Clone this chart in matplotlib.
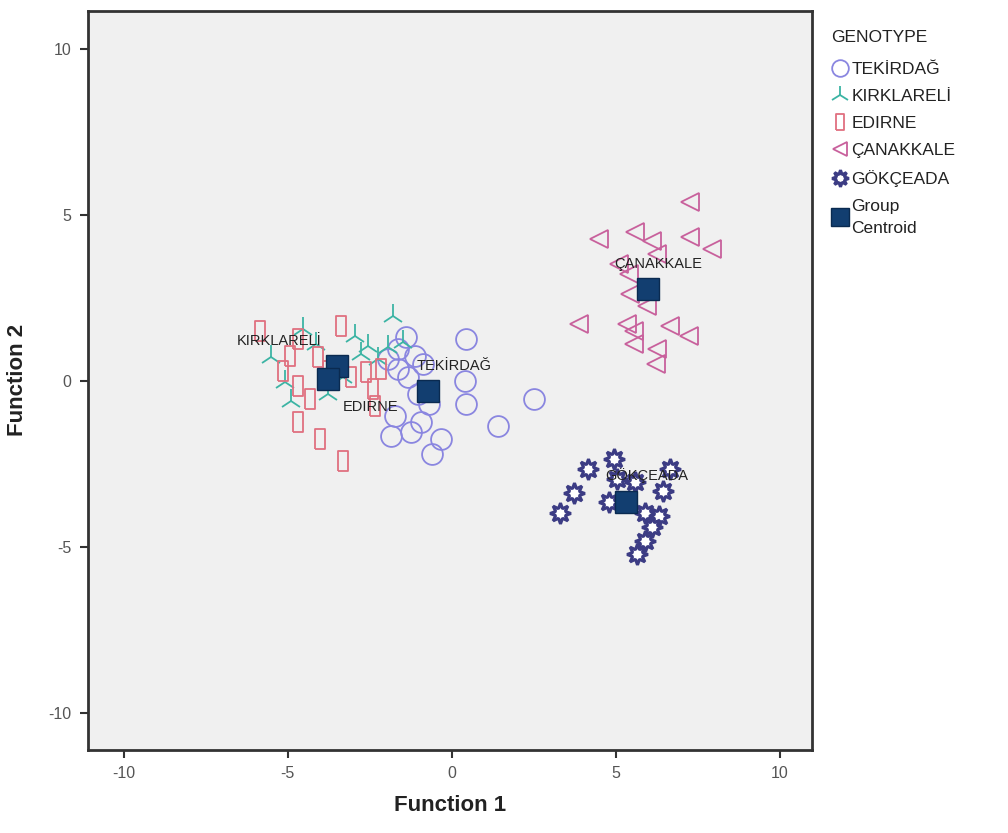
import matplotlib.pyplot as plt
import numpy as np

plt.rcParams["font.family"] = ["Liberation Sans", "DejaVu Sans"]
plt.rcParams["axes.unicode_minus"] = False

# discriminant scores
tekirdag_f1 = [0.43, 0.40, 0.43, 1.40, 2.52, -0.33, -0.61, -1.40, -1.64, -1.12,
               -1.64, -1.34, -0.88, -1.03, -0.70, -1.73, -0.94, -1.85, -1.25, -1.95]
tekirdag_f2 = [1.27, 0.00, -0.69, -1.36, -0.54, -1.75, -2.20, 1.33, 0.96, 0.75,
               0.36, 0.12, 0.51, -0.39, -0.69, -1.05, -1.23, -1.66, -1.54, 0.66]

kirklareli_f1 = [-5.50, -5.08, -4.89, -4.53, -4.13, -2.95, -2.55, -2.77, -1.95,
                 -2.25, -1.79, -3.77, -3.31, -1.49]
kirklareli_f2 = [0.72, -0.03, -0.60, 1.57, 1.11, 1.36, 1.05, 0.81, 1.02,
                 0.66, 1.96, -0.39, 0.12, 1.17]

edirne_f1 = [-5.84, -4.68, -3.37, -4.92, -4.07, -4.68, -4.32, -4.68, -4.01,
             -3.31, -3.07, -2.61, -2.16, -2.40, -2.34, -3.77, -5.14]
edirne_f2 = [1.51, 1.27, 1.66, 0.75, 0.72, -0.15, -0.54, -1.23, -1.75,
             -2.41, 0.12, 0.27, 0.36, -0.24, -0.75, 0.30, 0.30]

canakkale_f1 = [7.26, 4.50, 5.59, 6.11, 7.26, 7.93, 5.11, 5.41, 5.44, 5.96,
                3.89, 5.35, 5.56, 6.66, 7.23, 5.56, 6.26, 6.23, 6.26]
canakkale_f2 = [5.39, 4.28, 4.49, 4.22, 4.34, 3.98, 3.52, 3.22, 2.62, 2.26,
                1.72, 1.72, 1.51, 1.66, 1.36, 1.11, 0.96, 0.51, 3.83]

gokceada_f1 = [4.95, 4.16, 3.74, 3.31, 4.80, 5.05, 5.90, 6.32, 6.44, 6.66,
               6.11, 5.90, 5.65, 5.59]
gokceada_f2 = [-2.35, -2.65, -3.37, -3.98, -3.64, -2.95, -3.98, -4.07, -3.31,
               -2.65, -4.40, -4.82, -5.21, -3.04]

centroid_names = ["TEKİRDAĞ", "KIRKLARELİ", "EDIRNE", "ÇANAKKALE", "GÖKÇEADA"]
centroid_f1 = [-0.73, -3.50, -3.77, 6.00, 5.30]
centroid_f2 = [-0.30, 0.45, 0.06, 2.77, -3.64]

# tall narrow box marker for EDIRNE
rect = [(-0.45, -1), (0.45, -1), (0.45, 1), (-0.45, 1), (-0.45, -1)]

fig = plt.figure(figsize=(10.08, 8.33), dpi=100)
ax = fig.add_axes([0.087, 0.1, 0.719, 0.887])
ax.set_facecolor("#f0f0f0")

ax.plot(tekirdag_f1, tekirdag_f2, "o", ms=15, mfc="none", mec="#8a86e0", mew=1.3,
        label="TEKİRDAĞ")
ax.plot(kirklareli_f1, kirklareli_f2, "2", ms=17, mec="#3cb4a4", mew=1.3,
        label="KIRKLARELİ")
ax.plot(edirne_f1, edirne_f2, marker=rect, ls="none", ms=15, mfc="none",
        mec="#e07080", mew=1.3, label="EDIRNE")
ax.plot(canakkale_f1, canakkale_f2, "<", ms=13, mfc="none", mec="#c8609c", mew=1.3,
        label="ÇANAKKALE")
ax.plot(gokceada_f1, gokceada_f2, marker=(8, 1, 0), ls="none", ms=15, mfc="white",
        mec="#3c3c84", mew=2.2, label="GÖKÇEADA")
ax.plot(centroid_f1, centroid_f2, "s", ms=16, mfc="#123e70", mec="#0a2a50", mew=1,
        label="Group\nCentroid")

# SPSS-style centroid labels, nudged around the squares
offsets = [(0.8, 0.75), (-1.75, 0.75), (1.3, -0.85), (0.3, 0.75), (0.65, 0.8)]
for name, x, y, (dx, dy) in zip(centroid_names, centroid_f1, centroid_f2, offsets):
    ax.text(x + dx, y + dy, name, fontsize=10.5, color="#222222",
            ha="center", va="center")

ax.set_xlim(-11.1, 11.0)
ax.set_ylim(-11.1, 11.15)
ax.set_xticks([-10, -5, 0, 5, 10])
ax.set_yticks([-10, -5, 0, 5, 10])
ax.tick_params(length=6, width=1.5, colors="#333333", labelcolor="#555555",
               labelsize=11.5, pad=6)
for s in ax.spines.values():
    s.set_linewidth(2)
    s.set_color("#333333")

ax.set_xlabel("Function 1", fontsize=16, fontweight="bold", labelpad=10, color="#222222")
ax.set_ylabel("Function 2", fontsize=16, fontweight="bold", labelpad=14, color="#222222")

leg = fig.legend(loc="upper left", bbox_to_anchor=(0.818, 0.972), frameon=False,
                 title="GENOTYPE", fontsize=12.5, title_fontsize=12.5,
                 handletextpad=0.15, handlelength=1.0, labelspacing=0.68,
                 markerscale=0.8, borderaxespad=0)
leg._legend_box.align = "left"
leg._legend_box.sep = 12
for t in leg.get_texts():
    t.set_color("#222222")
    t.set_linespacing(1.6)
leg.get_title().set_color("#222222")

fig.savefig("out.png", dpi=100)
